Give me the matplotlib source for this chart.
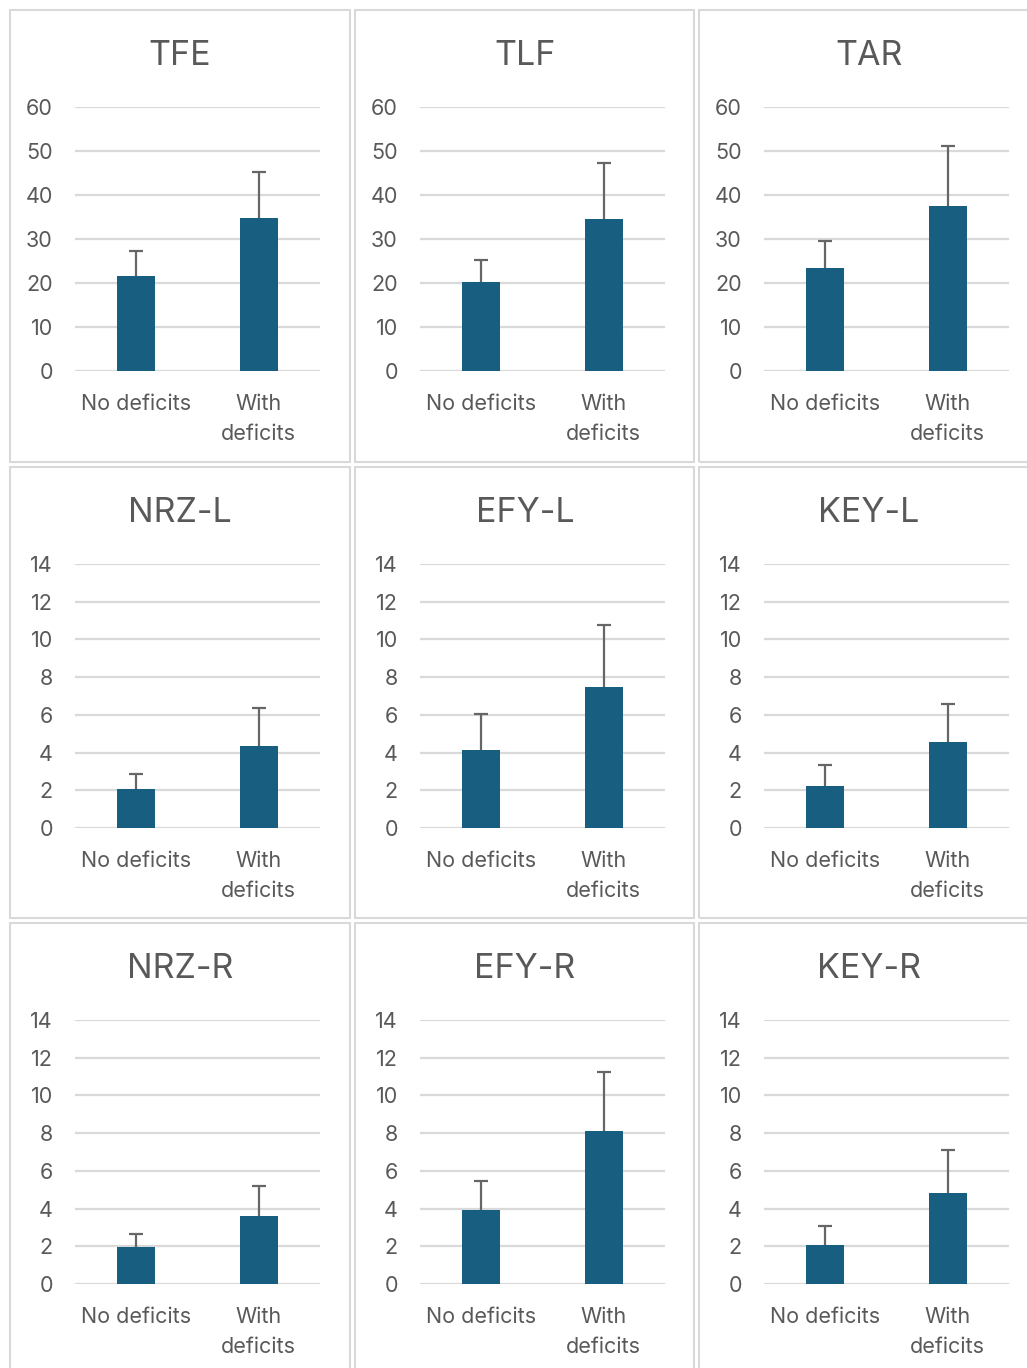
import numpy as np
import matplotlib
matplotlib.use("Agg")
import matplotlib.pyplot as plt
from matplotlib.patches import Rectangle

plt.rcParams['font.family'] = ['Inter', 'DejaVu Sans']

groups = ['No deficits', 'With\ndeficits']
titles = ['TFE', 'TLF', 'TAR', 'NRZ-L', 'EFY-L', 'KEY-L', 'NRZ-R', 'EFY-R', 'KEY-R']
# mean scores per panel: [no deficits, with deficits]
means = [[21.6, 34.8], [20.2, 34.5], [23.4, 37.5],
         [2.06, 4.33], [4.12, 7.5], [2.22, 4.54],
         [1.97, 3.62], [3.94, 8.09], [2.08, 4.84]]
# standard deviations (upper error bars only)
sds = [[5.7, 10.4], [5.0, 12.8], [6.1, 13.6],
       [0.79, 2.06], [1.95, 3.28], [1.11, 2.01],
       [0.69, 1.60], [1.54, 3.14], [1.01, 2.29]]
ymax = [60, 60, 60, 14, 14, 14, 14, 14, 14]
ystep = [10, 10, 10, 2, 2, 2, 2, 2, 2]

W, H = 1027, 1368
BAR = '#175E80'
TXT = '#595959'
GRID = '#d9d9d9'

fig = plt.figure(figsize=(W / 100, H / 100), dpi=100)
fig.patch.set_facecolor('white')

col_x = [10, 355, 699]
col_w = [340, 339, 345]
row_y = [10, 467, 923]
row_h = [452, 451, 460]

def px(x, y, w, h):
    return [x / W, 1 - (y + h) / H, w / W, h / H]

for i, name in enumerate(titles):
    r, c = divmod(i, 3)
    x0, y0 = col_x[c], row_y[r]
    # panel frame
    fig.patches.append(Rectangle((x0 / W, 1 - (y0 + row_h[r]) / H), col_w[c] / W, row_h[r] / H,
                                 transform=fig.transFigure, fill=False,
                                 edgecolor=GRID, linewidth=1.5))
    fig.text((x0 + 170) / W, 1 - (y0 + 46) / H, name, ha='center', va='center',
             fontsize=24.5, color=TXT)

    ax = fig.add_axes(px(x0 + 65, y0 + 97, 245, 264))
    xs = np.arange(len(groups))
    ax.bar(xs, means[i], width=0.31, color=BAR, zorder=3)
    eb = ax.errorbar(xs, means[i], yerr=[np.zeros(2), sds[i]], fmt='none',
                     ecolor='#666666', elinewidth=1.6, capsize=4.8, capthick=1.6, zorder=4)
    eb[1][0].set_visible(False)

    ax.set_xlim(-0.5, 1.5)
    ax.set_ylim(0, ymax[i])
    ax.set_yticks(np.arange(0, ymax[i] + 1, ystep[i]))
    ax.yaxis.grid(True, color=GRID, linewidth=1.6)
    ax.set_axisbelow(True)
    for s in ax.spines.values():
        s.set_visible(False)
    ax.set_xticks(xs)
    ax.set_xticklabels(groups, linespacing=1.62)
    ax.tick_params(axis='y', length=0, pad=16, labelsize=15.5, labelcolor=TXT)
    ax.tick_params(axis='x', length=0, pad=16.5, labelsize=15.5, labelcolor=TXT)

fig.savefig('out.png', dpi=100, facecolor='white')
